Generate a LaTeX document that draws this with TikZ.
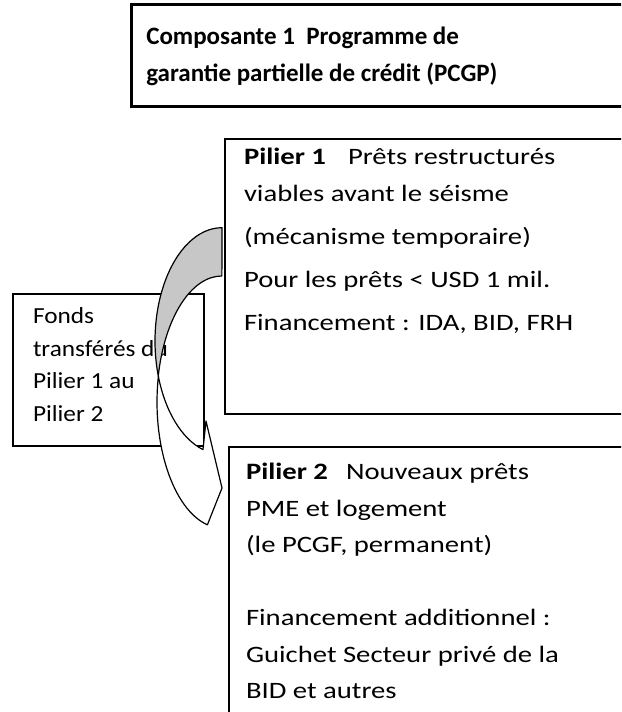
\documentclass[tikz,border=0pt]{standalone}
\usepackage{fontspec}
\setmainfont{Carlito}
\newfontfamily\pilfont{Carlito}[FakeStretch=1.22]
\newfontfamily\fondsfont{Carlito}[FakeStretch=1.1]

\tikzset{
  box/.style={draw, line width=2pt, fill=white, anchor=north west, inner ysep=0pt},
  band/.style={draw=black, line width=1.2pt, line join=round},
}

\begin{document}
\begin{tikzpicture}[x=1pt, y=1pt]
\useasboundingbox (0,0) rectangle (621,712);
\clip (0,0) rectangle (621,712);

\node [box, line width=2.6pt, inner xsep=15pt] (comp) at (130,709)
  {\parbox[t][102pt][t]{490pt}{\fontsize{25}{37}\selectfont\bfseries\rule{0pt}{40pt}Composante 1\ \ Programme de\\garantie partielle de crédit (PCGP)}};

\node [box, inner xsep=20pt] (fonds) at (12,419)
  {\parbox[t][152pt][t]{151pt}{\fondsfont\fontsize{23}{32.5}\selectfont\rule{0pt}{30pt}Fonds\\transférés du\\Pilier 1 au\\Pilier 2}};

\node [box, inner xsep=19pt] (pil1) at (224,574)
  {\parbox[t][275pt][t]{388pt}{\pilfont\fontsize{23.5}{37}\selectfont\rule{0pt}{26pt}\textbf{Pilier 1}\hspace{22pt}Prêts restructurés\\viables avant le séisme\\[6pt](mécanisme temporaire)\\[6pt]Pour les prêts < USD 1 mil.\\[6pt]Financement : IDA, BID, FRH}};

\node [box, inner xsep=17pt] (pil2) at (228,266)
  {\parbox[t][300pt][t]{388pt}{\pilfont\fontsize{23.5}{36.5}\selectfont\rule{0pt}{33pt}\textbf{Pilier 2}\hspace{18pt}Nouveaux prêts\\PME et logement\\(le PCGF, permanent)\\[36.5pt]Financement additionnel :\\Guichet Secteur privé de la\\BID et autres}};

\filldraw [band, fill=black!22] (222,484.3)
  arc[start angle=90, end angle=198, x radius=67, y radius=113.3]
  arc[start angle=168.1, end angle=90, x radius=65, y radius=126] -- cycle;
\filldraw [band, fill=white] (158.3,336)
  arc[start angle=198, end angle=253.5, x radius=67, y radius=113.3]
  -- (206,291) -- (222,224) -- (207.4,187.2)
  arc[start angle=257, end angle=168.1, x radius=65, y radius=126] -- cycle;
\end{tikzpicture}
\end{document}
